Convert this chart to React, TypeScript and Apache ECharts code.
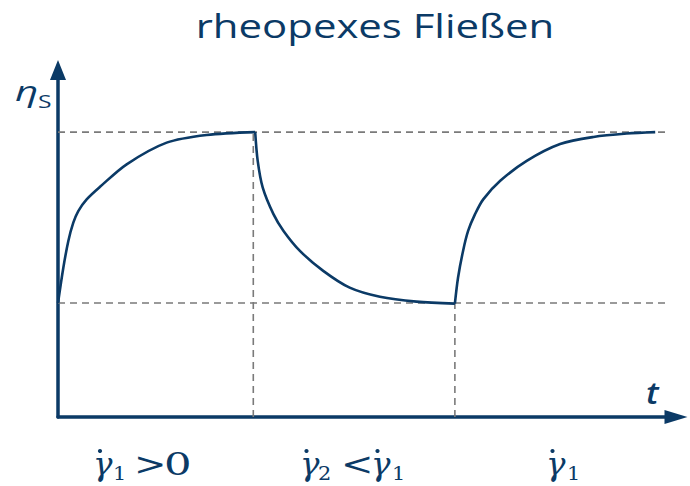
import React, { useEffect, useRef } from "react";
import * as echarts from "echarts";

// time (arbitrary units) and viscosity (relative to the upper plateau)
const rise1T = [0, 0.084, 0.164, 0.243, 0.322, 0.455, 0.667, 1.09, 1.725, 2.36, 3.13];
const rise1Eta = [0.4, 0.523, 0.618, 0.682, 0.723, 0.764, 0.808, 0.887, 0.963, 0.99, 1.0];
const dropT = [3.13, 3.17, 3.25, 3.42, 3.58, 3.84, 4.21, 4.63, 5.11, 5.69, 6.3];
const dropEta = [1.0, 0.899, 0.805, 0.712, 0.653, 0.583, 0.513, 0.454, 0.422, 0.405, 0.398];
const rise2T = [6.3, 6.35, 6.43, 6.51, 6.62, 6.75, 7.02, 7.44, 7.97, 8.5, 9.03, 9.48];
const rise2Eta = [0.398, 0.489, 0.583, 0.653, 0.712, 0.764, 0.829, 0.899, 0.958, 0.983, 0.995, 1.0];

const etaHigh = 1.0;
const etaLow = 0.4;
const stepTimes = [3.1, 6.3];
const guideEnd = 9.65;
const tMax = 9.81;
const etaMax = 1.218;

const titleText = "rheopexes Fließen";

const navy = "#0b3a66";
const grey = "#7a7a7a";
const sans = "Open Sans";
const serif = "DejaVu Serif";

const zip = (a: number[], b: number[]) => a.map((v, i) => [v, b[i]]);

// glyph placed by its left edge and alphabetic baseline
const glyph = (
  text: string,
  x: number,
  baseline: number,
  size: number,
  opts: { italic?: boolean; family?: string; central?: number; scaleX?: number; weight?: number } = {}
) => ({
  type: "text",
  x,
  y: baseline - (opts.central ?? 0.346) * size,
  scaleX: opts.scaleX ?? 1.1,
  style: {
    text,
    align: "left",
    verticalAlign: "middle",
    fontFamily: opts.family ?? serif,
    fontSize: size,
    fontStyle: opts.italic ? "italic" : "normal",
    fontWeight: opts.weight ?? 400,
    fill: navy,
  },
});

const dot = (cx: number, cy: number) => ({
  type: "circle",
  shape: { cx, cy, r: 2.1 },
  style: { fill: navy },
});

export default function App() {
  const ref = useRef<HTMLDivElement>(null);
  useEffect(() => {
    if (!ref.current) return;
    const chart = echarts.init(ref.current, null, { renderer: "svg" });
    const dashed = (data: number[][]) => ({
      type: "line",
      data,
      symbol: "none",
      silent: true,
      z: 1,
      lineStyle: { color: grey, width: 1.6, type: [7, 5] },
    });
    const curve = (data: number[][]) => ({
      type: "line",
      data,
      symbol: "none",
      smooth: 0.3,
      z: 3,
      lineStyle: { color: navy, width: 2.6 },
    });
    const base = 475;
    const subBase = 480;
    const big = 31;
    const small = 19;
    const g = { italic: true, scaleX: 1.05 };
    const sub = { scaleX: 1.1 };
    const rel = { scaleX: 1.25 };
    chart.setOption({
      animation: false,
      grid: { left: 58, right: 14, top: 70, bottom: 69 },
      xAxis: {
        type: "value",
        min: 0,
        max: tMax,
        axisLine: {
          show: true,
          symbol: ["none", "triangle"],
          symbolSize: [14, 23],
          lineStyle: { color: navy, width: 3.5 },
        },
        axisTick: { show: false },
        axisLabel: { show: false },
        splitLine: { show: false },
      },
      yAxis: {
        type: "value",
        min: 0,
        max: etaMax,
        axisLine: {
          show: true,
          symbol: ["none", "triangle"],
          symbolSize: [16, 20],
          lineStyle: { color: navy, width: 3.5 },
        },
        axisTick: { show: false },
        axisLabel: { show: false },
        splitLine: { show: false },
      },
      series: [
        dashed([[0, etaHigh], [guideEnd, etaHigh]]),
        dashed([[0, etaLow], [guideEnd, etaLow]]),
        dashed([[stepTimes[0], 0], [stepTimes[0], etaHigh]]),
        dashed([[stepTimes[1], 0], [stepTimes[1], etaLow]]),
        curve(zip(rise1T, rise1Eta)),
        curve(zip(dropT, dropEta)),
        curve(zip(rise2T, rise2Eta)),
      ],
      graphic: [
        {
          type: "text",
          x: 375,
          y: 9,
          scaleX: 1.27,
          style: {
            text: titleText,
            align: "center",
            verticalAlign: "top",
            fontFamily: sans,
            fontSize: 33,
            fill: navy,
          },
        },
        glyph("η", 15, 101, 28, { italic: true, family: sans, central: 0.388, scaleX: 1.45 }),
        glyph("S", 38, 108, 19, { family: sans, central: 0.388, scaleX: 1.3 }),
        glyph("t", 646, 404, 31, { italic: true, family: sans, central: 0.388, scaleX: 1.1, weight: 600 }),
        // γ̇1 > 0
        glyph("γ", 93, base, big, g),
        dot(100, 451),
        glyph("1", 113, subBase, small, sub),
        glyph(">", 134, base, big, rel),
        glyph("0", 164, base, big, { scaleX: 1.4 }),
        // γ̇2 < γ̇1
        glyph("γ", 300, base, big, g),
        dot(306.5, 451),
        glyph("2", 318, subBase, small, sub),
        glyph("<", 341, base, big, rel),
        glyph("γ", 371, base, big, g),
        dot(377.5, 451),
        glyph("1", 392, subBase, small, sub),
        // γ̇1
        glyph("γ", 546, base, big, g),
        dot(552.5, 451),
        glyph("1", 567, subBase, small, sub),
      ],
    });
    return () => chart.dispose();
  }, []);
  return (
    <div
      ref={ref}
      style={{ position: "fixed", left: 0, top: 0, width: 690, height: 486, background: "#fff" }}
    />
  );
}
